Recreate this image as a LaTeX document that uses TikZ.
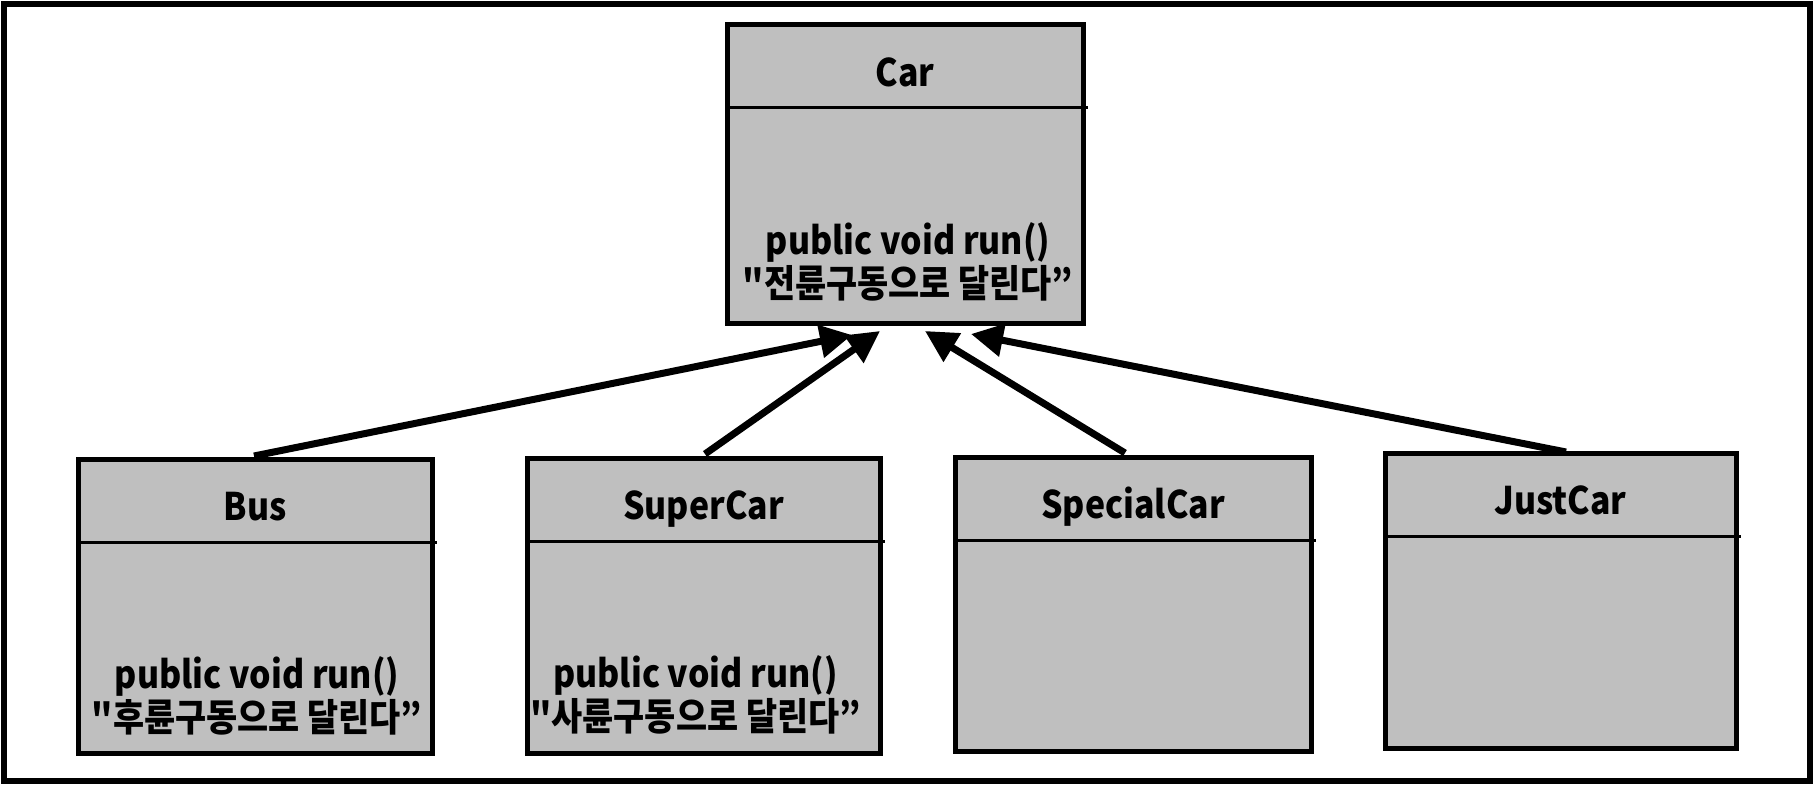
\documentclass[tikz,border=0pt]{standalone}
\usepackage{fontspec}
\setmainfont{Noto Sans CJK KR}[FakeStretch=0.89]
\newfontfamily\krn{Noto Sans CJK KR}[FakeStretch=0.89]
\usetikzlibrary{arrows.meta}
\definecolor{clsfill}{RGB}{191,191,191}
\tikzset{
  cls/.style={draw=black, line width=2.5pt, fill=clsfill, rectangle, inner sep=0pt, outer sep=0pt},
  divline/.style={line width=1.5pt},
  ttl/.style={font=\bfseries\fontsize{19}{22}\selectfont, text height=12.5pt, text depth=0pt, inner sep=0pt},
  mth/.style={font=\bfseries\fontsize{19}{22}\selectfont, text height=13.7pt, text depth=3.8pt, inner sep=0pt},
  kor/.style={font=\krn\bfseries\fontsize{19}{22}\selectfont, text height=16pt, text depth=1.3pt, inner sep=0pt},
  inh/.style={line width=3.5pt, -{Triangle[length=16pt,width=16pt]}},
}
\begin{document}
\begin{tikzpicture}[x=0.5pt,y=-0.5pt]
\useasboundingbox (0,0) rectangle (1814,786);
\draw[line width=3pt] (4,4) rectangle (1810,781);

% class boxes
\node[cls, minimum width=178pt, minimum height=149pt] (car) at (905,174) {};
\node[cls, minimum width=177pt, minimum height=147pt] (bus) at (255,606) {};
\node[cls, minimum width=176.5pt, minimum height=147.5pt] (sup) at (703.5,605.5) {};
\node[cls, minimum width=178pt, minimum height=147pt] (spc) at (1133,604) {};
\node[cls, minimum width=175.5pt, minimum height=147.5pt] (jst) at (1560.5,600.5) {};

% dividers
\foreach \n in {car,bus,sup,spc,jst}{
  \draw[divline] ([yshift=-41.5pt]\n.north west) -- ([xshift=2.5pt,yshift=-41.5pt]\n.north east);
}

% titles
\node[ttl] (cart) at ([yshift=-24.5pt]car.north) {Car};
\node[ttl] (bust) at ([yshift=-24.5pt]bus.north) {Bus};
\node[ttl] (supt) at ([yshift=-24.5pt]sup.north) {SuperCar};
\node[ttl] (spct) at ([yshift=-24.5pt]spc.north) {SpecialCar};
\node[ttl] (jstt) at ([yshift=-24.5pt]jst.north) {JustCar};

% methods
\node[mth] (carm) at ([xshift=1.5pt,yshift=-110pt]car.north) {public void run()};
\node[kor] (cark) at ([xshift=1.5pt,yshift=-129pt]car.north) {"전륜구동으로 달린다”};
\node[mth] (busm) at ([xshift=1pt,yshift=-110pt]bus.north) {public void run()};
\node[kor] (busk) at ([xshift=1pt,yshift=-129pt]bus.north) {"후륜구동으로 달린다”};
\node[mth] (supm) at ([xshift=-4pt,yshift=-110pt]sup.north) {public void run()};
\node[kor] (supk) at ([xshift=-4pt,yshift=-129pt]sup.north) {"사륜구동으로 달린다”};

% arrow tips (free ends)
\coordinate (t1) at ([shift={(-53,12)}]car.south);
\coordinate (t2) at ([shift={(-25,8)}]car.south);
\coordinate (t3) at ([shift={(20,8)}]car.south);
\coordinate (t4) at ([shift={(66,11)}]car.south);

% inheritance connectors
\draw[inh] ([shift={(-1,-3)}]bus.north) -- (t1);
\draw[inh] ([shift={(1.5,-4)}]sup.north) -- (t2);
\draw[inh] ([shift={(-8,-4)}]spc.north) -- (t3);
\draw[inh] ([shift={(5.5,-1)}]jst.north) -- (t4);
\end{tikzpicture}
\end{document}
